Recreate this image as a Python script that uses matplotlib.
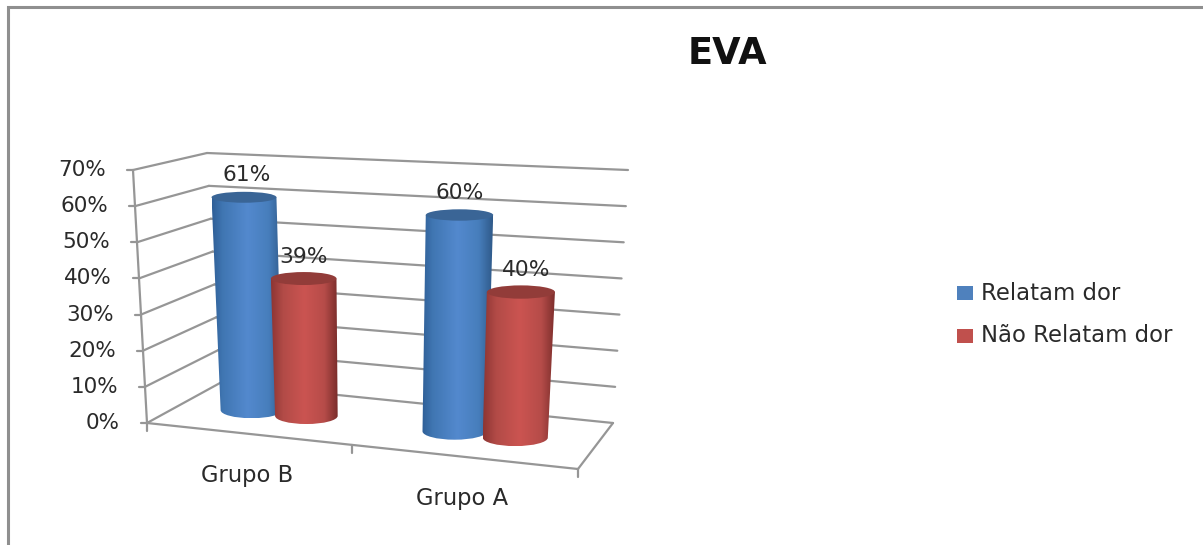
import numpy as np
import matplotlib
matplotlib.use("Agg")
import matplotlib.pyplot as plt
from matplotlib.patches import Ellipse, PathPatch, Rectangle
from matplotlib.path import Path

# Chart data
title = "EVA"
categories = ["Grupo B", "Grupo A"]
series_names = ["Relatam dor", "Não Relatam dor"]
relatam = [0.61, 0.60]
nao_relatam = [0.39, 0.40]
y_ticks = [0.0, 0.1, 0.2, 0.3, 0.4, 0.5, 0.6, 0.7]

W, H = 1203, 545
V_MAX = 0.7

# Floor corners and wall-height vectors of the 3D box, in canvas units
FL, FR = np.array([147.0, 423.0]), np.array([578.0, 469.0])
BL, BR = np.array([220.0, 383.0]), np.array([613.0, 423.0])
UP_FL, UP_FR = np.array([-14.0, -253.0]), np.array([16.0, -263.0])
UP_BL, UP_BR = np.array([-13.0, -230.0]), np.array([15.0, -253.0])


def project(u, d, v):
    """Map category position u, depth d and value v onto the canvas."""
    w = u - 0.1 * u * (1 - u)  # foreshortening along the category axis
    front = FL + (FR - FL) * w
    back = BL + (BR - BL) * w
    up_front = UP_FL + (UP_FR - UP_FL) * w
    up_back = UP_BL + (UP_BR - UP_BL) * w
    floor = front + (back - front) * d
    up = up_front + (up_back - up_front) * d
    return floor + up * (v / V_MAX)


def mix(stops, n=128):
    """Horizontal colour ramp through (position, hex colour) stops."""
    pos = [p for p, _ in stops]
    rgb = np.array([matplotlib.colors.to_rgb(c) for _, c in stops])
    t = np.linspace(0, 1, n)
    return np.stack([np.interp(t, pos, rgb[:, i]) for i in range(3)], axis=1)[None, :, :]


fig = plt.figure(figsize=(W / 100, H / 100), dpi=100, facecolor="white")
ax = fig.add_axes([0, 0, 1, 1])
ax.set_xlim(0, W)
ax.set_ylim(H, 0)
ax.axis("off")

plt.rcParams["font.family"] = ["DejaVu Sans"]
TEXT = "#2a2a2a"
GRID = "#969696"

# Outer chart frame, open to the right and bottom edges
ax.plot([8, 8, W], [H, 6.5, 6.5], color="#8f8f8f", lw=2.2, solid_joinstyle="miter")

ax.text(727, 54, title, fontsize=26.5, fontweight="bold",
        color="#111111", ha="center", va="center")


def line(p, q, **kw):
    ax.plot([p[0], q[0]], [p[1], q[1]], color=GRID, lw=1.6, solid_capstyle="round", **kw)


# Gridlines on the left and back walls, with value-axis ticks and labels
for v in y_ticks:
    a, b, c = project(0, 0, v), project(0, 1, v), project(1, 1, v)
    line(a, b)
    line(b, c)
    line(a, a + np.array([-6, 0]))
    ax.text(a[0] - 27, a[1], f"{v:.0%}", fontsize=15.5, color=TEXT, ha="right", va="center")

# Value axis and floor outline
line(project(0, 0, 0), project(0, 0, V_MAX))
line(project(0, 0, 0), project(1, 0, 0))
line(project(1, 0, 0), project(1, 1, 0))

# Category ticks under the front edge of the floor
for u in [0, 0.5, 1]:
    p = project(u, 0, 0)
    line(p, p + np.array([0, 8]))

# Category labels sit just below the floor edge
for i, name in enumerate(categories):
    p = project((i + 0.5) / 2, 0, 0)
    ax.text(p[0], p[1] + 42, name, fontsize=16.3, color=TEXT, ha="center", va="center")

BLUE_RAMP = mix([(0, "#2f5f97"), (0.15, "#4076b2"), (0.5, "#5389ce"),
                 (0.8, "#477ebc"), (1, "#2f5a8a")])
RED_RAMP = mix([(0, "#8e3533"), (0.18, "#b24b47"), (0.5, "#cb5451"),
                (0.8, "#b64c49"), (1, "#7a2d2b")])
BLUE_TOP, RED_TOP = "#3a6596", "#923c39"
BLUE_SWATCH, RED_SWATCH = "#4f81bd", "#c0504d"

K = 0.5522847  # Bezier constant for quarter ellipses


def cylinder(u, v, ramp, top_color, z):
    base, top = project(u, 0.5, 0), project(u, 0.5, v)
    ab = 30.5 + 2.5 * u
    at = ab + 1.5
    bb = 5.5 + (base[1] - 200) / 240 * 3
    bt = 5.5 + (top[1] - 200) / 240 * 3
    verts = [(top[0] - at, top[1]), (base[0] - ab, base[1]),
             (base[0] - ab, base[1] + K * bb), (base[0] - K * ab, base[1] + bb), (base[0], base[1] + bb),
             (base[0] + K * ab, base[1] + bb), (base[0] + ab, base[1] + K * bb), (base[0] + ab, base[1]),
             (top[0] + at, top[1]), (top[0] - at, top[1])]
    codes = [Path.MOVETO, Path.LINETO] + [Path.CURVE4] * 6 + [Path.LINETO, Path.CLOSEPOLY]
    body = PathPatch(Path(verts, codes), fc="none", ec="none", zorder=z)
    ax.add_patch(body)
    x0 = min(top[0] - at, base[0] - ab)
    x1 = max(top[0] + at, base[0] + ab)
    im = ax.imshow(ramp, extent=(x0, x1, base[1] + bb, top[1]), aspect="auto",
                   interpolation="bilinear", zorder=z)
    im.set_clip_path(body)
    ax.add_patch(Ellipse(top, 2 * at, 2 * bt, fc=top_color, ec="none", zorder=z + 0.1))
    return top


# Clustered cylinders: blue sits behind its red neighbour
offset = 0.07
label_dx = [[3, 0], [0, 5]]
ax.set_autoscale_on(False)
for i in range(len(categories)):
    centre = (i + 0.5) / 2
    t1 = cylinder(centre - offset, relatam[i], BLUE_RAMP, BLUE_TOP, 3 + i * 2)
    t2 = cylinder(centre + offset, nao_relatam[i], RED_RAMP, RED_TOP, 4 + i * 2)
    ax.text(t1[0] + label_dx[i][0], t1[1] - 22, f"{relatam[i]:.0%}", fontsize=15.7,
            color=TEXT, ha="center", va="center", zorder=10)
    ax.text(t2[0] + label_dx[i][1], t2[1] - 22, f"{nao_relatam[i]:.0%}", fontsize=15.7,
            color=TEXT, ha="center", va="center", zorder=10)

# Legend
for name, col, y in zip(series_names, [BLUE_SWATCH, RED_SWATCH], [293, 336]):
    ax.add_patch(Rectangle((957, y - 7), 16, 14, fc=col, ec="none"))
    ax.text(981, y, name, fontsize=16.4, color=TEXT, ha="left", va="center")

fig.savefig("out.png", dpi=100, facecolor="white")
